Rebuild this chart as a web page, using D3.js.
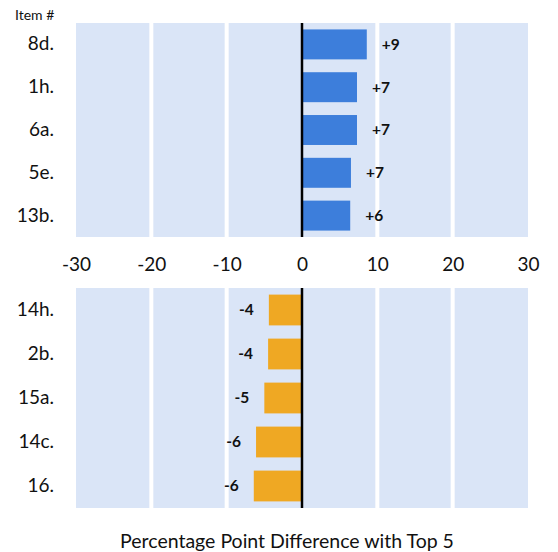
<!DOCTYPE html>
<html><head><meta charset="utf-8">
<script src="https://cdn.jsdelivr.net/npm/d3@7"></script>
<style>body{margin:0;background:#fff}svg{display:block}text{font-family:Lato,"Open Sans",sans-serif;fill:#111}</style>
</head><body><svg id="c" width="558" height="552"></svg>
<script>
const topItems = ["8d.","1h.","6a.","5e.","13b."];
const topValues = [8.6, 7.3, 7.3, 6.5, 6.4];
const topLabels = ["+9","+7","+7","+7","+6"];
const botItems = ["14h.","2b.","15a.","14c.","16."];
const botValues = [-4.4, -4.5, -5.0, -6.1, -6.4];
const botLabels = ["-4","-4","-5","-6","-6"];
const xTicks = [-30,-20,-10,0,10,20,30];
const gridVals = [-20,-10,10,20];

const svg = d3.select("#c");
const x = d3.scaleLinear().domain([-30,30]).range([76,528]);

function panel(items, values, labels, y0, y1, color, pos){
  const y = d3.scaleBand().domain(items).range([y0,y1]).paddingInner(0.3).paddingOuter(0.15);
  const g = svg.append("g");
  g.append("rect").attr("x",x(-30)).attr("y",y0).attr("width",x(30)-x(-30)).attr("height",y1-y0).attr("fill","#dae5f7");
  g.selectAll(".grid").data(gridVals).join("line")
    .attr("x1",d=>x(d)).attr("x2",d=>x(d)).attr("y1",y0).attr("y2",y1)
    .attr("stroke","#fff").attr("stroke-width",4);
  g.selectAll(".bar").data(values).join("rect")
    .attr("x",d=>Math.min(x(0),x(d))).attr("width",d=>Math.abs(x(d)-x(0)))
    .attr("y",(d,i)=>y(items[i])).attr("height",y.bandwidth())
    .attr("fill",color);
  g.append("line").attr("x1",x(0)).attr("x2",x(0)).attr("y1",y0).attr("y2",y1)
    .attr("stroke","#000").attr("stroke-width",2.5);
  g.selectAll(".lab").data(values).join("text")
    .attr("x",d=>pos ? x(d)+15 : x(d)-15)
    .attr("y",(d,i)=>y(items[i])+y.bandwidth()/2)
    .attr("dy","0.35em").attr("text-anchor",pos?"start":"end")
    .attr("font-size",15.5).attr("font-weight","bold")
    .text((d,i)=>labels[i]);
  const ax = d3.axisLeft(y).tickSize(0).tickPadding(0);
  const ag = g.append("g").attr("transform","translate(54,0)").call(ax);
  ag.select(".domain").remove();
  ag.selectAll("text").attr("font-size",19).attr("font-family","Lato, sans-serif").attr("fill","#111");
}

panel(topItems, topValues, topLabels, 23, 237, "#3d7edb", true);
panel(botItems, botValues, botLabels, 288, 508, "#efa823", false);

const xa = d3.axisBottom(x).tickValues(xTicks).tickSize(0).tickPadding(0).tickFormat(d => String(d));
const xg = svg.append("g").attr("transform","translate(0,257)").call(xa);
xg.select(".domain").remove();
xg.selectAll("text").attr("font-size",19).attr("font-family","Lato, sans-serif").attr("fill","#111");

svg.append("text").attr("x",15).attr("y",20).attr("font-size",14).text("Item #");
svg.append("text").attr("x",287).attr("y",548).attr("text-anchor","middle").attr("font-size",19.5).text("Percentage Point Difference with Top 5");
</script></body></html>
